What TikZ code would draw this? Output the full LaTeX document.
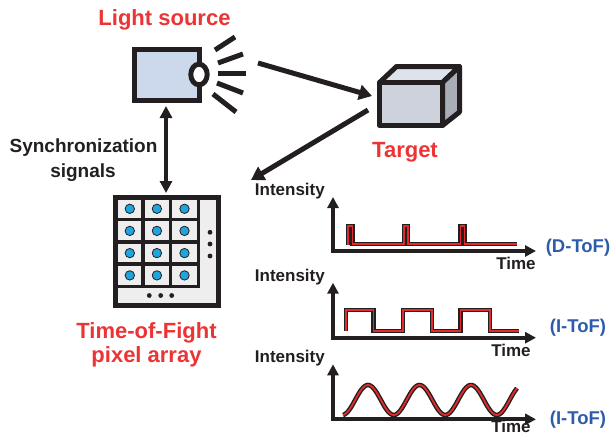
\documentclass[tikz,border=0pt]{standalone}
\usepackage{fontspec}
\setmainfont{Liberation Sans}
\usetikzlibrary{arrows.meta}

\definecolor{labelred}{RGB}{236,52,52}
\definecolor{labelblue}{RGB}{46,92,170}
\definecolor{lampblue}{RGB}{204,217,236}
\definecolor{cubefront}{RGB}{205,210,220}
\definecolor{cubetop}{RGB}{222,226,234}
\definecolor{cubeside}{RGB}{168,173,183}
\definecolor{cellgray}{RGB}{238,238,238}
\definecolor{pixblue}{RGB}{30,164,222}
\definecolor{signalred}{RGB}{224,44,44}
\definecolor{ink}{RGB}{35,31,32}

\tikzset{
  redlabel/.style={text=labelred, font=\fontsize{22}{24}\selectfont\bfseries, inner sep=0pt, anchor=base},
  blacklabel/.style={text=ink, font=\fontsize{19}{24}\selectfont\bfseries, inner sep=0pt, anchor=base},
  axislabel/.style={text=ink, font=\fontsize{17}{20}\selectfont\bfseries, inner sep=0pt},
  modelabel/.style={text=labelblue, font=\fontsize{18.5}{20}\selectfont\bfseries, inner sep=0pt},
  heavy/.style={draw=ink, line width=5pt},
  ray/.style={draw=ink, line width=5pt},
  beam/.style={draw=ink, line width=5pt, -{Triangle[width=15pt,length=13pt]}},
  syncarrow/.style={draw=ink, line width=4pt, {Triangle[width=12pt,length=12pt]}-{Triangle[width=12pt,length=12pt]}},
  axis/.style={draw=ink, line width=4pt, line join=miter, {Triangle[width=11pt,length=11pt]}-{Triangle[width=11pt,length=11pt]}},
  gridline/.style={draw=ink, line width=3.5pt},
  pixel/.style={fill=pixblue, draw=ink, line width=0.8pt},
  dot/.style={fill=ink},
  signal/.style={draw=signalred, line width=1.8pt, line join=miter, preaction={draw=ink, line width=4.6pt}},
}

\begin{document}
\begin{tikzpicture}[x=1pt,y=-1pt]
\useasboundingbox (0,0) rectangle (612,436);

% ---- light source ----
\filldraw[heavy, fill=lampblue] (134.5,49.5) rectangle (199.5,100.5);
\filldraw[heavy, fill=white] (199,74.5) ellipse [x radius=8.2, y radius=10.3];
\draw[ray] (215,50) -- (235,37);
\draw[ray] (218,63) -- (243,54);
\draw[ray] (218,73) -- (246,73);
\draw[ray] (217,83) -- (243,93);
\draw[ray] (213,94) -- (236,112);
\node[redlabel] (lslabel) at (164.5,26) {Light source};

% ---- target cube ----
\begin{scope}[line join=round]
  \filldraw[heavy, fill=cubetop] (379.5,82.5) -- (396.5,66.5) -- (459.5,66.5) -- (442.5,82.5) -- cycle;
  \filldraw[heavy, fill=cubeside] (442.5,82.5) -- (459.5,66.5) -- (459.5,112) -- (442.5,125.5) -- cycle;
  \filldraw[heavy, fill=cubefront] (379.5,82.5) rectangle (442.5,125.5);
\end{scope}
\node[redlabel] (tglabel) at (405,157) {Target};

% ---- beams ----
\coordinate (lamp-out) at (258,63);
\coordinate (target-in) at (372,96);
\coordinate (target-out) at (368,110);
\coordinate (sensor-in) at (251,180);
\draw[beam] (lamp-out) -- (target-in);
\draw[beam] (target-out) -- (sensor-in);

% ---- synchronization ----
\coordinate (sync-top) at (166,106);
\coordinate (sync-bot) at (166,193);
\draw[syncarrow] (sync-top) -- (sync-bot);
\node[blacklabel] (sync1) at (83.5,152) {Synchronization};
\node[blacklabel] (sync2) at (83,177) {signals};

% ---- pixel array ----
\fill[cellgray] (115.5,197.5) rectangle (218.5,305.5);
\foreach \x in {143.1,170.7,198.3} \draw[gridline] (\x,197.5) -- (\x,286.7);
\foreach \y in {219.7,241.9,264.1,286.7} \draw[gridline] (115.5,\y) -- (198.3+1.75,\y);
\foreach \x in {129.8,156.9,184.5}
  \foreach \y in {208.8,230.9,253.1,275.4}
    \filldraw[pixel] (\x,\y) circle (4.7);
\draw[heavy] (115.5,197.5) rectangle (218.5,305.5);
\foreach \y in {232.3,244,256} \fill[dot] (210,\y) circle (2.4);
\foreach \x in {149.3,160.7,171.7} \fill[dot] (\x,295.5) circle (2.4);
\node[redlabel] (arr1) at (146.5,338) {Time-of-Fight};
\node[redlabel] (arr2) at (146.5,362) {pixel array};

% ---- graph 1: direct ToF ----
\coordinate (g1y) at (333,197);
\coordinate (g1x) at (536,251);
\draw[axis] (g1y) |- (g1x);
\draw[signal] (348,245) -- (348,226) -- (352.5,226) -- (352.5,244) -- (404,244) -- (404,226)
  -- (408,226) -- (408,244) -- (460.5,244) -- (460.5,226) -- (464.5,226) -- (464.5,244) -- (517,244);
\node[axislabel, anchor=base east] (g1int) at (325,195) {Intensity};
\node[axislabel, anchor=base] (g1time) at (516,269.5) {Time};
\node[modelabel] (g1mode) at (578,248) {(D-ToF)};

% ---- graph 2: indirect ToF, square ----
\coordinate (g2y) at (333,282.7);
\coordinate (g2x) at (536,337.7);
\draw[axis] (g2y) |- (g2x);
\draw[signal] (346,331) -- (346,310) -- (373.5,310) -- (373.5,331) -- (403,331) -- (403,310)
  -- (432,310) -- (432,331) -- (460.5,331) -- (460.5,310) -- (490,310) -- (490,331) -- (519,331);
\node[axislabel, anchor=base east] (g2int) at (325,281) {Intensity};
\node[axislabel, anchor=base] (g2time) at (511,356) {Time};
\node[modelabel] (g2mode) at (578,328) {(I-ToF)};

% ---- graph 3: indirect ToF, sine (period 51.5) ----
\coordinate (g3y) at (333,364.3);
\coordinate (g3x) at (536,419.3);
\draw[axis] (g3y) |- (g3x);
\draw[signal, line join=round] plot[domain=343:517, samples=120, smooth] (\x, {400-15*cos((\x-368)*6.990291)});
\node[axislabel, anchor=base east] (g3int) at (325,362.6) {Intensity};
\node[axislabel, anchor=base] (g3time) at (511,432.5) {Time};
\node[modelabel] (g3mode) at (578,420) {(I-ToF)};
\end{tikzpicture}
\end{document}
